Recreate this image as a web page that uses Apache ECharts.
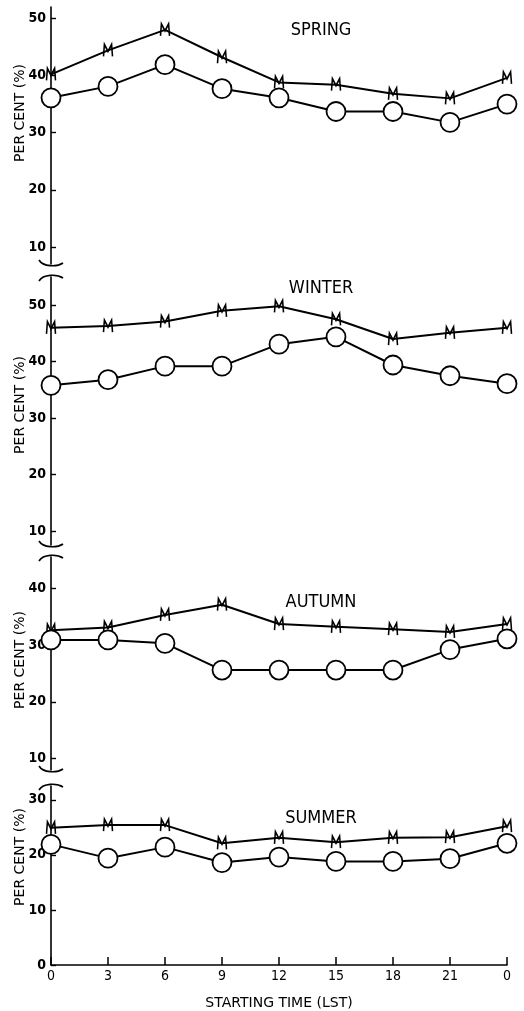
<!DOCTYPE html>
<html><head><meta charset="utf-8">
<script src="https://cdn.jsdelivr.net/npm/echarts@6/dist/echarts.min.js"></script>
<style>html,body{margin:0;padding:0;background:#fff}#c{width:524px;height:1011px}</style>
</head><body><div id="c"></div>
<script>
const hours = [0, 3, 6, 9, 12, 15, 18, 21, 24];
const xTickLabels = ['0', '3', '6', '9', '12', '15', '18', '21', '0'];
const seasons = ['SPRING', 'WINTER', 'AUTUMN', 'SUMMER'];
const springM = [40.2, 44.4, 48.0, 43.2, 38.8, 38.4, 36.8, 36.0, 39.6];
const springO = [36.1, 38.1, 41.9, 37.7, 36.1, 33.7, 33.7, 31.8, 35.0];
const winterM = [46.0, 46.3, 47.1, 49.0, 49.8, 47.5, 44.0, 45.1, 46.0];
const winterO = [35.8, 36.8, 39.2, 39.2, 43.1, 44.4, 39.4, 37.5, 36.1];
const autumnM = [32.6, 33.1, 35.3, 37.1, 33.7, 33.2, 32.8, 32.3, 33.7];
const autumnO = [30.9, 30.9, 30.3, 25.6, 25.6, 25.6, 25.6, 29.2, 31.1];
const summerM = [24.9, 25.4, 25.4, 22.1, 23.1, 22.3, 23.1, 23.2, 25.2];
const summerO = [21.9, 19.4, 21.4, 18.6, 19.6, 18.8, 18.8, 19.3, 22.1];
const springTicks = [10, 20, 30, 40, 50];
const winterTicks = [10, 20, 30, 40, 50];
const autumnTicks = [10, 20, 30, 40];
const summerTicks = [0, 10, 20, 30];
const yAxisTitle = 'PER CENT (%)';
const xAxisTitle = 'STARTING TIME (LST)';

const NARROW = "'Liberation Sans Narrow', 'DejaVu Sans Condensed', sans-serif";
const WIDE = "'DejaVu Sans', sans-serif";
const mSeries = [springM, winterM, autumnM, summerM];
const oSeries = [springO, winterO, autumnO, summerO];
const tickSets = [springTicks, winterTicks, autumnTicks, summerTicks];
const ranges = [[7, 52], [7.5, 55], [8, 45.5], [0, 32.5]];
const gridBoxes = [[7, 257], [277, 268], [557, 213], [786, 186]];
const breaksTop = [false, true, true, true];
const breaksBottom = [true, true, true, false];
const titleY = [30, 288, 602, 818];
const nameY = [113, 405, 660, 857];
const M_PATH = 'path://M0 12 L1 0 L5 7 L9 0 L10 12';

const chart = echarts.init(document.getElementById('c'), null, {renderer: 'canvas'});
const pair = arr => arr.map((v, i) => [hours[i], v]);

const grid = gridBoxes.map(g => ({left: 51, right: 17, top: g[0], height: g[1], containLabel: false}));
const xAxis = gridBoxes.map((g, i) => ({
  type: 'value', gridIndex: i, min: 0, max: 24, interval: 3,
  show: i === 3,
  axisLine: {show: true, onZero: false, lineStyle: {color: '#000', width: 1.5}},
  axisTick: {show: true, inside: true, length: 8, lineStyle: {color: '#000', width: 1.5}},
  axisLabel: {show: true, margin: 4, color: '#000', fontSize: 14, fontFamily: NARROW,
    formatter: v => xTickLabels[hours.indexOf(v)]},
  splitLine: {show: false},
  name: i === 3 ? xAxisTitle : '', nameLocation: 'middle', nameGap: 31,
  nameTextStyle: {color: '#000', fontSize: 14, fontFamily: WIDE}
}));
const yAxis = tickSets.map((t, i) => ({
  type: 'value', gridIndex: i, min: ranges[i][0], max: ranges[i][1],
  axisLine: {show: true, onZero: false, lineStyle: {color: '#000', width: 1.6}},
  axisTick: {show: true, inside: true, length: 5, customValues: t, lineStyle: {color: '#000', width: 1.4}},
  axisLabel: {show: true, margin: 5, color: '#000', fontSize: 14, fontWeight: 'bold', fontFamily: NARROW, customValues: t},
  splitLine: {show: false}
}));
const series = [];
for (let i = 0; i < 4; i++) {
  series.push({
    type: 'line', xAxisIndex: i, yAxisIndex: i, data: pair(mSeries[i]),
    symbol: M_PATH, symbolSize: [9, 12], showAllSymbol: true,
    lineStyle: {color: '#000', width: 2},
    itemStyle: {color: 'transparent', borderColor: '#000', borderWidth: 1.8},
    animation: false, z: 3
  });
  series.push({
    type: 'line', xAxisIndex: i, yAxisIndex: i, data: pair(oSeries[i]),
    symbol: 'circle', symbolSize: 19, showAllSymbol: true,
    lineStyle: {color: '#000', width: 2},
    itemStyle: {color: '#fff', borderColor: '#000', borderWidth: 1.8},
    animation: false, z: 4
  });
}
chart.setOption({animation: false, grid, xAxis, yAxis, series});

const graphic = [];
for (let i = 0; i < 4; i++) {
  const pb = chart.convertToPixel({gridIndex: i}, [0, ranges[i][0]]);
  const pt = chart.convertToPixel({gridIndex: i}, [0, ranges[i][1]]);
  const X = pb[0];
  if (breaksBottom[i]) {
    const Y = pb[1];
    graphic.push({type: 'bezierCurve', silent: true,
      shape: {x1: X - 12, y1: Y - 4, cpx1: X - 8, cpy1: Y + 3, cpx2: X + 6, cpy2: Y + 3, x2: X + 12, y2: Y - 1},
      style: {stroke: '#000', lineWidth: 1.6, fill: null}});
  }
  if (breaksTop[i]) {
    const Y = pt[1];
    graphic.push({type: 'bezierCurve', silent: true,
      shape: {x1: X - 12, y1: Y + 4, cpx1: X - 8, cpy1: Y - 3, cpx2: X + 6, cpy2: Y - 3, x2: X + 12, y2: Y + 1},
      style: {stroke: '#000', lineWidth: 1.6, fill: null}});
  }
  graphic.push({type: 'text', x: 321, y: titleY[i], silent: true,
    style: {text: seasons[i], fill: '#000', font: "18px " + NARROW, textAlign: 'center', textVerticalAlign: 'middle'}});
  graphic.push({type: 'text', x: 20, y: nameY[i], rotation: Math.PI / 2, silent: true,
    style: {text: yAxisTitle, fill: '#000', font: "14px " + WIDE, textAlign: 'center', textVerticalAlign: 'middle'}});
}
chart.setOption({graphic});
</script></body></html>
